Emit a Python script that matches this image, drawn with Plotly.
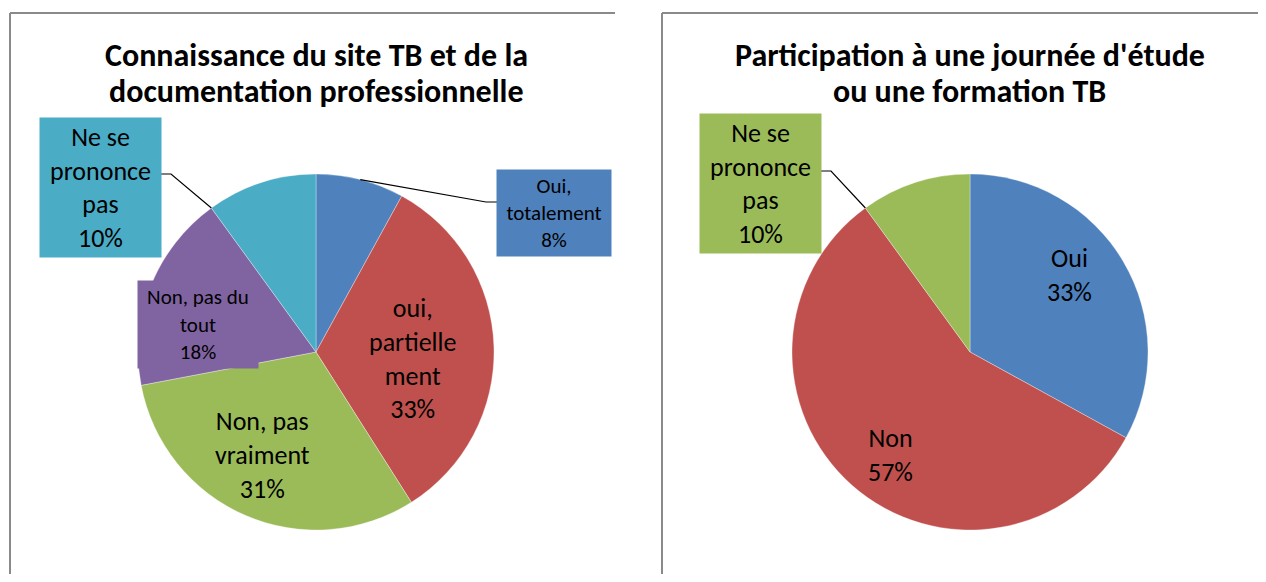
import math
import plotly.graph_objects as go

# browser body has an 8px margin; the figure is sized to fill the rest of the window
OFF = 8
W, H = 1266 - 2 * OFF, 582 - 2 * OFF

# ---------------- data ----------------
c1_title = ["Connaissance du site TB et de la", "documentation professionnelle"]
c1_labels = ["Oui, totalement", "oui, partiellement", "Non, pas vraiment",
             "Non, pas du tout", "Ne se prononce pas"]
c1_text = ["Oui,<br>totalement", "oui,<br>partielle<br>ment", "Non, pas<br>vraiment",
           "Non, pas du<br>tout", "Ne se<br>prononce<br>pas"]
c1_values = [8, 33, 31, 18, 10]

c2_title = ["Participation à une journée d'étude", "ou une formation TB"]
c2_labels = ["Oui", "Non", "Ne se prononce pas"]
c2_text = ["Oui", "Non", "Ne se<br>prononce<br>pas"]
c2_values = [33, 57, 10]

# ---------------- style ----------------
c1_colors = ["#4F81BD", "#C0504D", "#9BBB59", "#8064A2", "#4BACC6"]
c2_colors = ["#4F81BD", "#C0504D", "#9BBB59"]
FONT = "Carlito, Calibri, Lato, sans-serif"
BORDER = "#8A8A8A"

# pie geometry (window pixels)
c1_center, c2_center, RADIUS = (316, 352), (970, 352), 178

# label layout: center px, box size (w,h) or None, font size, bg?, leader (anchor frac in slice, elbow, box-edge)
c1_layout = [
    dict(c=(554, 213), box=(114, 86), fs=21, bg=True, lead=(0.5, (486, 202), (497, 202))),
    dict(c=(412, 358), box=None, fs=26, bg=False, lead=None),
    dict(c=(263, 455), box=None, fs=26, bg=False, lead=None),
    dict(c=(198, 324), box=(120, 87), fs=21, bg=True, lead=None),
    dict(c=(100, 187), box=(121, 139), fs=26, bg=True, lead=(0.0, (171, 174), (160, 174))),
]
c2_layout = [
    dict(c=(1069, 275), box=None, fs=26, bg=False, lead=None),
    dict(c=(890, 455), box=None, fs=26, bg=False, lead=None),
    dict(c=(760, 183), box=(121, 139), fs=26, bg=True, lead=(0.0, (831, 171), (820, 171))),
]
TITLE_Y = (55, 92)
TITLE_FS = 32
PANELS = [(10, 615), (662, 1266)]
PANEL_TOP = 13


def px(x):
    return (x - OFF) / W


def py(y):
    return 1 - (y - OFF) / H


def domain(center):
    cx, cy = center
    return dict(x=[px(cx - RADIUS), px(cx + RADIUS)], y=[py(cy + RADIUS), py(cy - RADIUS)])


fig = go.Figure()
annotations = []
shapes = []


def add_chart(title, labels, text, values, colors, layout, center):
    fig.add_trace(go.Pie(
        labels=labels, values=values, sort=False, direction="clockwise", rotation=0,
        marker=dict(colors=colors, line=dict(width=0.6, color="rgba(255,255,255,0.55)")),
        textinfo="none", domain=domain(center), showlegend=False, hoverinfo="label+percent",
    ))
    total = sum(values)
    for line, ty in zip(title, TITLE_Y):
        annotations.append(dict(
            x=px(center[0]), y=py(ty), xref="paper", yref="paper",
            text="<b>%s</b>" % line, showarrow=False, xanchor="center", yanchor="middle",
            font=dict(family=FONT, size=TITLE_FS, color="black")))
    cum = 0
    for t, v, col, lay in zip(text, values, colors, layout):
        pct = round(100 * v / total)
        ann = dict(
            x=px(lay["c"][0]), y=py(lay["c"][1]), xref="paper", yref="paper",
            text="%s<br>%d%%" % (t, pct), showarrow=False, xanchor="center", yanchor="middle",
            align="center", valign="middle",
            font=dict(family=FONT, size=lay["fs"], color="black"))
        if lay["bg"]:
            ann["bgcolor"] = col
            ann["width"] = lay["box"][0]
            ann["height"] = lay["box"][1]
            ann["borderpad"] = 0
        annotations.append(ann)
        if lay["lead"]:
            frac, elbow, edge = lay["lead"]
            theta = 2 * math.pi * (cum + frac * v) / total
            ex = center[0] + RADIUS * math.sin(theta)
            ey = center[1] - RADIUS * math.cos(theta)
            path = "M %f %f L %f %f L %f %f" % (px(ex), py(ey), px(elbow[0]), py(elbow[1]),
                                                px(edge[0]), py(edge[1]))
            shapes.append(dict(type="path", path=path, xref="paper", yref="paper",
                               line=dict(color="black", width=1.2)))
        cum += v


add_chart(c1_title, c1_labels, c1_text, c1_values, c1_colors, c1_layout, c1_center)
add_chart(c2_title, c2_labels, c2_text, c2_values, c2_colors, c2_layout, c2_center)

# panel borders (panels extend past the bottom / right of the view)
for (x0, x1) in PANELS:
    shapes.append(dict(type="line", xref="paper", yref="paper", x0=px(x0), x1=px(x1),
                       y0=py(PANEL_TOP), y1=py(PANEL_TOP), line=dict(color=BORDER, width=2)))
    shapes.append(dict(type="line", xref="paper", yref="paper", x0=px(x0), x1=px(x0),
                       y0=py(PANEL_TOP), y1=py(590), line=dict(color=BORDER, width=2)))

fig.update_layout(
    width=W, height=H, margin=dict(l=0, r=0, t=0, b=0),
    paper_bgcolor="white", plot_bgcolor="white",
    annotations=annotations, shapes=shapes,
)

fig.write_html("out.html")
